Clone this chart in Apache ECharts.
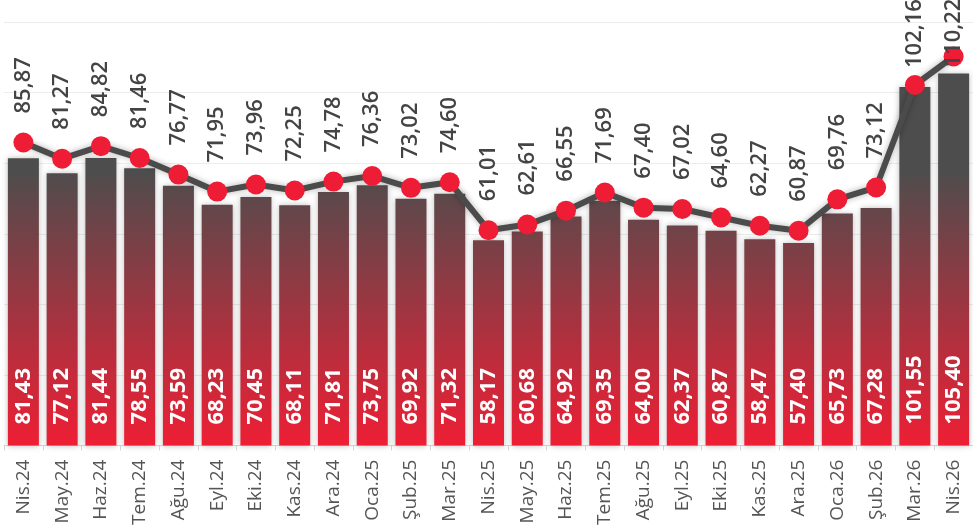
<!DOCTYPE html>
<html>
<head>
<meta charset="utf-8">
<script src="https://cdn.jsdelivr.net/npm/echarts@6/dist/echarts.min.js"></script>
<style>html,body{margin:0;padding:0;background:#fff;}#c{width:973px;height:528px;}</style>
</head>
<body>
<div id="c"></div>
<script>
const categories = ["Nis.24","May.24","Haz.24","Tem.24","Ağu.24","Eyl.24","Eki.24","Kas.24","Ara.24","Oca.25","Şub.25","Mar.25","Nis.25","May.25","Haz.25","Tem.25","Ağu.25","Eyl.25","Eki.25","Kas.25","Ara.25","Oca.26","Şub.26","Mar.26","Nis.26"];
const barValues = [81.43,77.12,81.44,78.55,73.59,68.23,70.45,68.11,71.81,73.75,69.92,71.32,58.17,60.68,64.92,69.35,64.00,62.37,60.87,58.47,57.40,65.73,67.28,101.55,105.40];
const lineValues = [85.87,81.27,84.82,81.46,76.77,71.95,73.96,72.25,74.78,76.36,73.02,74.60,61.01,62.61,66.55,71.69,67.40,67.02,64.60,62.27,60.87,69.76,73.12,102.16,110.22];

const fmt = v => v.toFixed(2).replace('.', ',');
// labels near the top edge are pushed down so they stay inside the canvas
const lineData = lineValues.map((v, i) => {
  if (i === 23) return {value: v, label: {distance: 7}};
  if (i === 24) return {value: v, label: {distance: -21}};
  return v;
});
const chart = echarts.init(document.getElementById('c'), null, {renderer: 'canvas'});
chart.setOption({
  animation: false,
  backgroundColor: '#fff',
  grid: {left: 4, top: 22, width: 980, bottom: 80, containLabel: false},
  xAxis: {
    type: 'category',
    data: categories,
    offset: 3,
    axisLine: {lineStyle: {color: '#d6d6d6', width: 1}},
    axisTick: {show: true, length: 5, lineStyle: {color: '#d6d6d6'}},
    axisLabel: {rotate: 90, color: '#555', fontSize: 19, fontFamily: 'Open Sans', margin: 11, interval: 0}
  },
  yAxis: {
    type: 'value', min: 0, max: 120, interval: 20,
    axisLabel: {show: false}, axisLine: {show: false}, axisTick: {show: false},
    splitLine: {lineStyle: {color: '#ececec', width: 1}}
  },
  series: [
    {
      type: 'bar',
      data: barValues,
      barCategoryGap: '20%',
      itemStyle: {
        color: new echarts.graphic.LinearGradient(0, 170, 0, 448, [
          {offset: 0, color: '#4d4d4d'},
          {offset: 1, color: '#f01e34'}
        ], true),
        shadowColor: 'rgba(0,0,0,0.25)', shadowBlur: 6
      },
      label: {
        show: true, position: 'insideBottom', rotate: 90, align: 'left', verticalAlign: 'middle',
        distance: 21, color: '#fff', fontWeight: 'bold', fontSize: 22, fontFamily: 'Open Sans',
        formatter: p => fmt(p.value)
      },
      z: 2
    },
    {
      type: 'line',
      data: lineData,
      symbol: 'circle', symbolSize: 20,
      lineStyle: {color: '#4b4b4b', width: 6, shadowColor: 'rgba(0,0,0,0.3)', shadowBlur: 6},
      itemStyle: {color: '#ee1c34', borderWidth: 0},
      label: {
        show: true, position: 'top', rotate: 90, align: 'left', verticalAlign: 'middle',
        distance: 19, color: '#444', fontWeight: 600, fontSize: 22, fontFamily: 'Open Sans',
        formatter: p => fmt(p.value)
      },
      z: 3
    }
  ]
});
</script>
</body>
</html>
